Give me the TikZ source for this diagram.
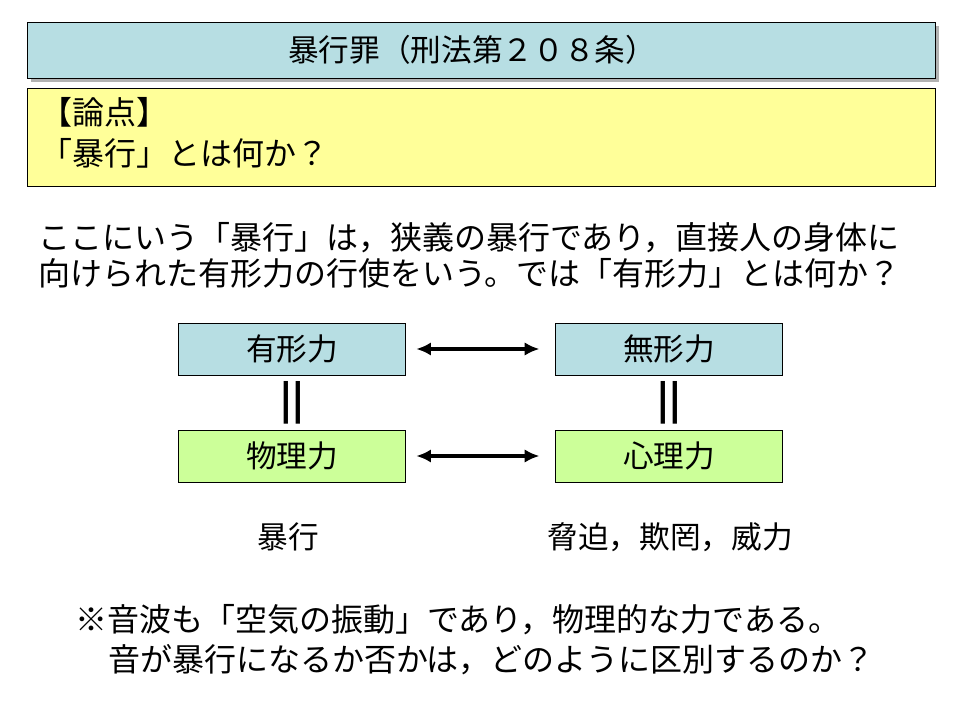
\documentclass[tikz,border=0pt]{standalone}
\usepackage{fontspec}
\setmainfont{Noto Sans CJK JP}
\usetikzlibrary{positioning,arrows.meta}
\definecolor{boxblue}{HTML}{B7DEE3}
\definecolor{boxgreen}{HTML}{CCFF99}
\definecolor{boxyellow}{HTML}{FFFF99}
\tikzset{
  kbox/.style={draw, minimum width=170pt, minimum height=39pt, inner sep=0pt, font=\fontsize{23}{26}\selectfont},
  txt/.style={anchor=west, inner sep=0pt, font=\fontsize{24}{28}\selectfont},
  dbl/.style={{Latex[length=11pt,width=10pt]}-{Latex[length=11pt,width=10pt]}, line width=2.6pt, shorten >=2pt, shorten <=2pt}
}
\begin{document}
\begin{tikzpicture}[x=0.75pt, y=-0.75pt]
    \useasboundingbox (0,0) rectangle (960,720);
    % title
    \fill[gray!60] (31,26) rectangle (939,82);
    \draw[fill=boxblue] (27,22) rectangle (935,78);
    \node[font=\fontsize{23}{26}\selectfont] (title) at (472,50) {暴行罪（刑法第２０８条）};
    % issue
    \draw[fill=boxyellow] (27,88) rectangle (935,186);
    \node[txt] (ronten) at (40,112) {【論点】};
    \node[txt] (toi) at (40,153) {「暴行」とは何か？};
    % paragraph
    \node[txt] (line1) at (38,238) {ここにいう「暴行」は，狭義の暴行であり，直接人の身体に};
    \node[txt] (line2) at (38,273) {向けられた有形力の行使をいう。では「有形力」とは何か？};
    % boxes
    \node[kbox, fill=boxblue] (yukei) at (292,349) {有形力};
    \node[kbox, fill=boxblue] (mukei) at (669,349) {無形力};
    \node[kbox, fill=boxgreen] (butsuri) at (292,456) {物理力};
    \node[kbox, fill=boxgreen] (shinri) at (669,456) {心理力};
    \draw[dbl] ([xshift=6pt]yukei.east) -- ([xshift=-10pt]mukei.west);
    \draw[dbl] ([xshift=6pt]butsuri.east) -- ([xshift=-10pt]shinri.west);
    \node[font=\bfseries\fontsize{28}{30}\selectfont] (eq1) at (292,403) {||};
    \node[font=\bfseries\fontsize{28}{30}\selectfont] (eq2) at (669,403) {||};
    % examples
    \node[font=\fontsize{23}{26}\selectfont] (bokou) at (288,537) {暴行};
    \node[font=\fontsize{23}{26}\selectfont] (kyouhaku) at (670,537) {脅迫，欺罔，威力};
    % note
    \node[txt] (note1) at (75,620) {※音波も「空気の振動」であり，物理的な力である。};
    \node[txt] (note2) at (108,660) {音が暴行になるか否かは，どのように区別するのか？};
\end{tikzpicture}
\end{document}
